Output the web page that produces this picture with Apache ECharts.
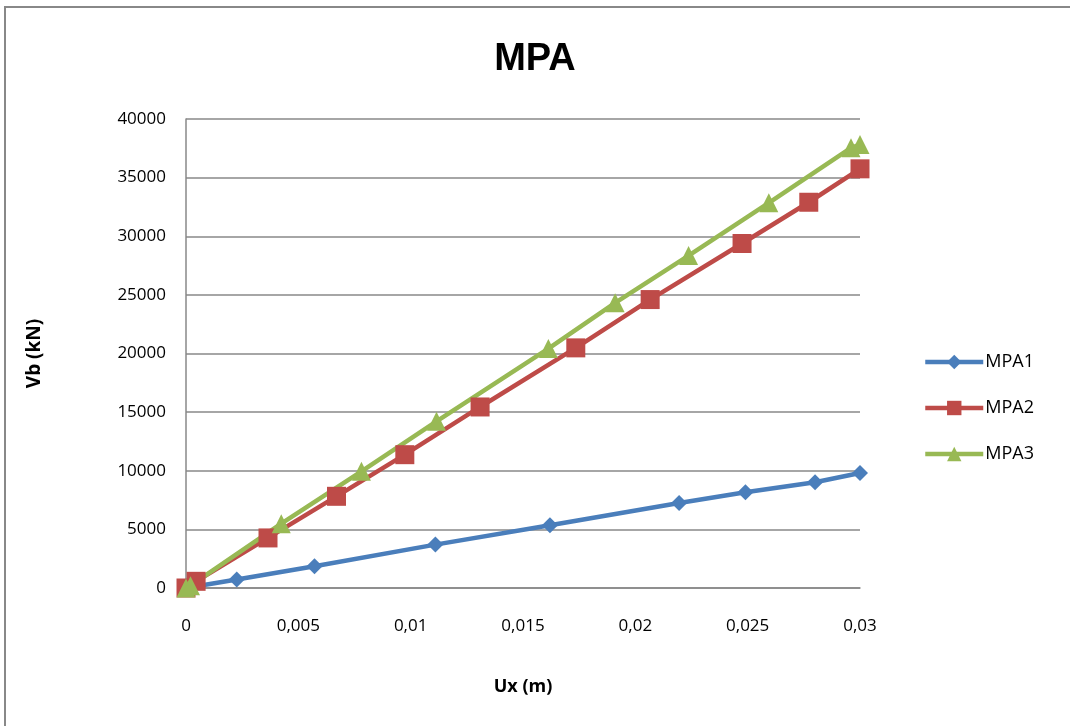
<!DOCTYPE html>
<html>
<head>
<meta charset="utf-8">
<script src="https://cdn.jsdelivr.net/npm/echarts@6/dist/echarts.min.js"></script>
<style>
  html, body { margin: 0; padding: 0; background: #fff; }
  #chart { width: 1070px; height: 726px; }
</style>
</head>
<body>
<div id="chart"></div>
<script>
// valeurs : [Ux (m), Vb (kN)]
const mpa1 = [[0, 0], [0.00226, 720], [0.00572, 1850], [0.0111, 3700], [0.0162, 5350],
  [0.02195, 7250], [0.0249, 8160], [0.028, 9020], [0.03, 9810]];
const mpa2 = [[0, 0], [0.00045, 570], [0.00365, 4270], [0.0067, 7820], [0.00974, 11370],
  [0.01309, 15440], [0.01735, 20480], [0.02066, 24600], [0.02475, 29380], [0.02772, 32900], [0.03, 35750]];
const mpa3 = [[0, 0], [0.0002, 200], [0.00424, 5490], [0.00781, 9950], [0.01115, 14220],
  [0.01613, 20420], [0.0191, 24320], [0.02237, 28350], [0.02594, 32850], [0.0296, 37540], [0.03, 37820]];
const seriesNames = ["MPA1", "MPA2", "MPA3"];

(function(){
  const chart = echarts.init(document.getElementById("chart"));
  const font = "'Open Sans', 'Liberation Sans', sans-serif";

  const mk = (name, data, color, symbol, size) => ({
    name: name, type: "line", data: data,
    symbol: symbol, symbolSize: size,
    lineStyle: { color: color, width: 4.5 },
    itemStyle: { color: color },
    emphasis: { disabled: true }
  });

  const option = {
    animation: false,
    textStyle: { fontFamily: font },
    title: {
      text: "MPA", left: "center", top: 36,
      textStyle: { fontFamily: "'Liberation Sans', sans-serif", fontSize: 38, fontWeight: "bold", color: "#000" }
    },
    graphic: [
      { type: "polyline", shape: { points: [[5, 726], [5, 7], [1070, 7]] },
        style: { stroke: "#888", lineWidth: 2, fill: null } }
    ],
    legend: {
      orient: "vertical", left: 918, top: 348, itemGap: 28,
      itemWidth: 58, itemHeight: 18,
      data: seriesNames,
      lineStyle: { width: 4.5 },
      textStyle: { fontSize: 18, color: "#000", fontFamily: font, padding: [0, 0, 0, -3] }
    },
    grid: { left: 186, right: 210, top: 119, bottom: 138 },
    xAxis: {
      type: "value", min: 0, max: 0.03, interval: 0.005,
      name: "Ux (m)", nameLocation: "middle", nameGap: 90,
      nameTextStyle: { fontSize: 18, fontWeight: "bold", color: "#000", fontFamily: font },
      axisLine: { show: true, lineStyle: { color: "#888", width: 1.5 } },
      axisTick: { show: false },
      splitLine: { show: false },
      axisLabel: { fontSize: 17, color: "#000", margin: 30,
        formatter: v => String(+v.toFixed(3)).replace(".", ",") }
    },
    yAxis: {
      type: "value", min: 0, max: 40000, interval: 5000,
      name: "Vb (kN)", nameLocation: "middle", nameGap: 142, nameRotate: 90,
      nameTextStyle: { fontSize: 19, fontWeight: "bold", color: "#000", fontFamily: font },
      axisLine: { show: true, lineStyle: { color: "#888", width: 1.5 } },
      axisTick: { show: false },
      splitLine: { lineStyle: { color: "#888", width: 1.5 } },
      axisLabel: { fontSize: 17, color: "#000", margin: 20, formatter: v => String(v) }
    },
    series: [
      mk(seriesNames[0], mpa1, "#4A7EBB", "diamond", 16),
      mk(seriesNames[1], mpa2, "#BE4B48", "rect", 19),
      mk(seriesNames[2], mpa3, "#98B954", "triangle", 19)
    ]
  };

  chart.setOption(option);
  window.addEventListener("resize", () => chart.resize());
})();
</script>
</body>
</html>
